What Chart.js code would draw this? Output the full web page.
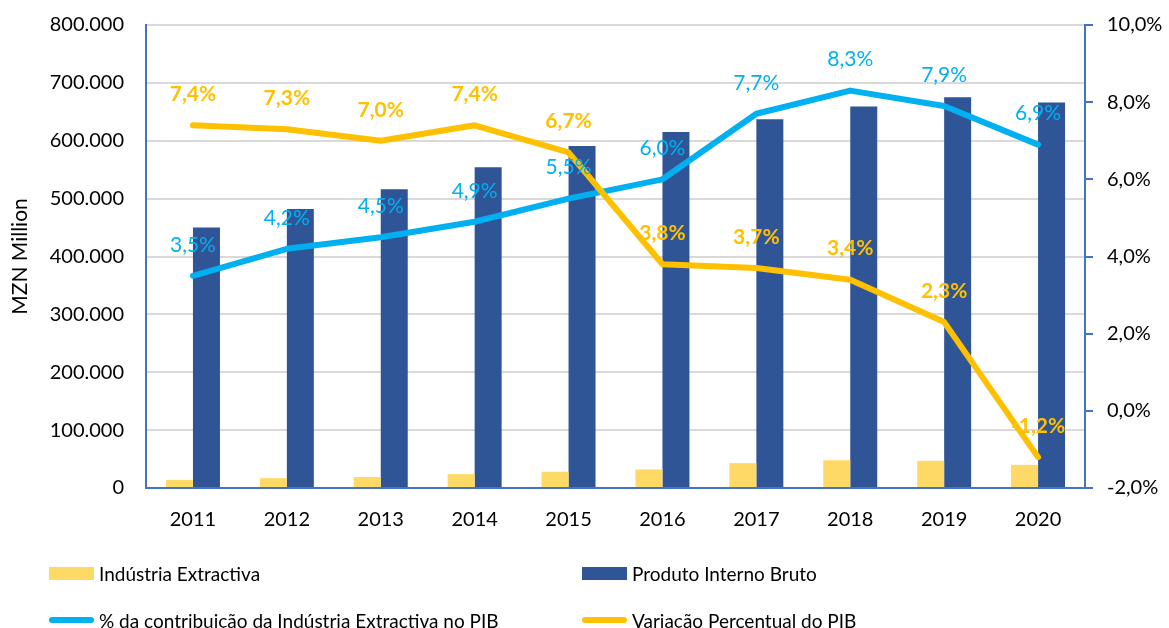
<!DOCTYPE html>
<html>
<head>
<meta charset="utf-8">
<script src="https://cdn.jsdelivr.net/npm/chart.js@4.4.0/dist/chart.umd.min.js"></script>
<style>
  body { margin: 0; background: #fff; }
  #wrap { position: relative; width: 1169px; height: 628px; font-family: Lato, sans-serif; }
  #grafico { position: absolute; left: 0; top: 0; }
  .item { position: absolute; display: flex; align-items: center; font-size: 19px; color: #000; white-space: nowrap; }
  .item span.cx { display: inline-block; width: 45px; height: 13px; margin-right: 5px; }
  .item span.ln { display: inline-block; width: 45px; height: 6px; border-radius: 3px; margin-right: 5px; }
</style>
</head>
<body>
<div id="wrap">
  <canvas id="grafico" width="1169" height="628"></canvas>
  <div id="legenda"></div>
</div>
<script>
// dados
const anos = ["2011", "2012", "2013", "2014", "2015", "2016", "2017", "2018", "2019", "2020"];
const industriaExtractiva = [14000, 17000, 19000, 24000, 28000, 32000, 43000, 48000, 47000, 40000];
const pib = [450000, 482000, 516000, 554000, 591000, 615000, 637000, 659000, 675000, 666000];
const contribuicao = [3.5, 4.2, 4.5, 4.9, 5.5, 6.0, 7.7, 8.3, 7.9, 6.9];
const variacao = [7.4, 7.3, 7.0, 7.4, 6.7, 3.8, 3.7, 3.4, 2.3, -1.2];

const nomes = [
  "Indústria Extractiva",
  "Produto Interno Bruto",
  "% da contribuição da Indústria Extractiva no PIB",
  "Variação Percentual do PIB",
];
const cores = ["#FFD966", "#2F5597", "#00B0F0", "#FFC000"];

const azulEixo = "#4472C4";
const fonte = "Lato, sans-serif";

function pct(v) {
  return v.toFixed(1).replace(".", ",") + "%";
}
function milhares(v) {
  return String(v).replace(/\B(?=(\d{3})+(?!\d))/g, ".");
}

// rotulos de valor por cima das linhas
const rotulos = {
  id: "rotulos",
  afterDatasetsDraw(chart) {
    const ctx = chart.ctx;
    chart.data.datasets.forEach((ds, i) => {
      if (!ds.rotulo) return;
      const meta = chart.getDatasetMeta(i);
      ctx.save();
      ctx.font = ds.rotulo;
      ctx.fillStyle = ds.borderColor;
      ctx.textAlign = "center";
      ctx.textBaseline = "middle";
      meta.data.forEach((p, j) => {
        ctx.fillText(pct(ds.data[j]), p.x, p.y - 31);
      });
      ctx.restore();
    });
  },
};

// eixos verticais com largura fixa e sem folga extra em cima/baixo
function fixarEixo(largura) {
  return (s) => {
    s.width = largura;
    s.paddingTop = 0;
    s.paddingBottom = 0;
  };
}

const ctx = document.getElementById("grafico").getContext("2d");
new Chart(ctx, {
  type: "bar",
  data: {
    labels: anos,
    datasets: [
      {
        label: nomes[2],
        type: "line",
        data: contribuicao,
        yAxisID: "yPct",
        borderColor: cores[2],
        backgroundColor: cores[2],
        borderWidth: 6,
        pointRadius: 0,
        tension: 0,
        borderCapStyle: "round",
        borderJoinStyle: "round",
        rotulo: "21px " + fonte,
        order: 2,
      },
      {
        label: nomes[3],
        type: "line",
        data: variacao,
        yAxisID: "yPct",
        borderColor: cores[3],
        backgroundColor: cores[3],
        borderWidth: 6,
        pointRadius: 0,
        tension: 0,
        borderCapStyle: "round",
        borderJoinStyle: "round",
        rotulo: "bold 21px " + fonte,
        order: 1,
      },
      {
        label: nomes[0],
        data: industriaExtractiva,
        yAxisID: "y",
        backgroundColor: cores[0],
        order: 3,
      },
      {
        label: nomes[1],
        data: pib,
        yAxisID: "y",
        backgroundColor: cores[1],
        order: 4,
      },
    ],
  },
  options: {
    responsive: false,
    animation: false,
    datasets: {
      bar: { categoryPercentage: 0.575, barPercentage: 1 },
    },
    layout: { padding: { left: 0, right: 0, top: 25, bottom: 100 } },
    plugins: {
      legend: { display: false },
      tooltip: { enabled: false },
    },
    scales: {
      x: {
        grid: { display: false, drawTicks: false },
        border: { color: azulEixo, width: 2 },
        ticks: { color: "#000", font: { family: fonte, size: 20 }, padding: 20 },
        afterFit(s) { s.height = 40; },
      },
      y: {
        position: "left",
        min: 0,
        max: 800000,
        ticks: {
          stepSize: 100000,
          color: "#000",
          padding: 22,
          font: { family: fonte, size: 20 },
          callback: (v) => milhares(v),
        },
        grid: { color: "#D9D9D9", lineWidth: 2, drawTicks: false },
        border: { color: azulEixo, width: 2 },
        title: {
          display: true,
          text: "MZN Million",
          color: "#000",
          font: { family: fonte, size: 21 },
          padding: { top: 8, bottom: 0 },
        },
        afterFit: fixarEixo(146),
      },
      yPct: {
        position: "right",
        min: -2,
        max: 10,
        ticks: {
          stepSize: 2,
          color: "#000",
          padding: 14,
          font: { family: fonte, size: 20 },
          callback: (v) => pct(v),
        },
        grid: { drawOnChartArea: false, color: azulEixo, tickLength: 8, lineWidth: 2 },
        border: { color: azulEixo, width: 2 },
        afterFit: fixarEixo(84),
      },
    },
  },
  plugins: [rotulos],
});

// legenda em duas colunas
const legenda = document.getElementById("legenda");
const posicoes = [[49, 573], [582, 573], [49, 620], [582, 620]];
nomes.forEach((nome, i) => {
  const d = document.createElement("div");
  d.className = "item";
  d.style.left = posicoes[i][0] + "px";
  d.style.top = posicoes[i][1] - 13 + "px";
  d.style.height = "26px";
  const sw = document.createElement("span");
  sw.className = i < 2 ? "cx" : "ln";
  sw.style.background = cores[i];
  d.appendChild(sw);
  d.appendChild(document.createTextNode(nome));
  legenda.appendChild(d);
});
</script>
</body>
</html>
